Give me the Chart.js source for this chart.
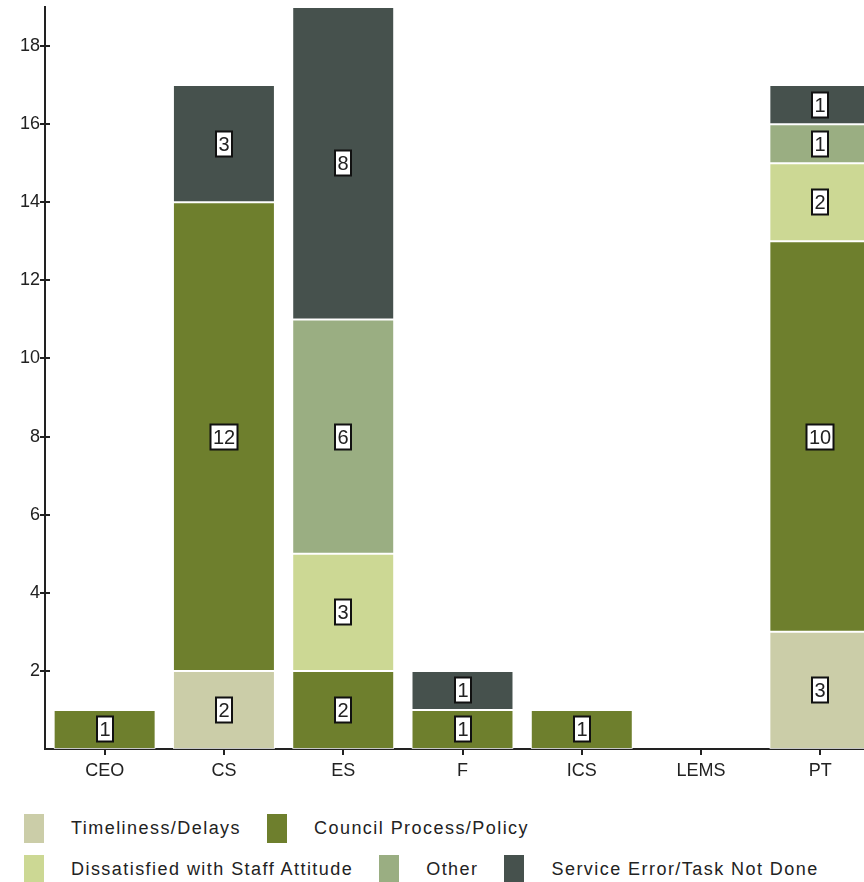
<!DOCTYPE html>
<html>
<head>
<meta charset="utf-8">
<script src="https://cdn.jsdelivr.net/npm/chart.js@4/dist/chart.umd.min.js"></script>
<style>
    html, body { margin: 0; padding: 0; background: #fff; overflow: hidden; }
    #wrap { position: relative; width: 880px; height: 790px; }
    #legend { position: absolute; left: 24px; top: 814px; font: 18px "Liberation Sans", Arial, sans-serif; letter-spacing: 1.45px; color: #222; }
    .legend-row { display: flex; align-items: center; height: 29px; margin-bottom: 12px; white-space: nowrap; }
    .legend-item { display: flex; align-items: center; margin-right: 26px; }
    .legend-box { width: 20px; height: 29px; margin-right: 27px; }
</style>
</head>
<body>
<div id="wrap"><canvas id="chart"></canvas></div>
<div id="legend"></div>
<script>
const categories = ['CEO', 'CS', 'ES', 'F', 'ICS', 'LEMS', 'PT'];

const timeliness   = [null, 2, null, null, null, null, 3];
const council      = [1, 12, 2, 1, 1, null, 10];
const dissatisfied = [null, null, 3, null, null, null, 2];
const other        = [null, null, 6, null, null, null, 1];
const serviceError = [null, 3, 8, 1, null, null, 1];

const seriesNames = [
    'Timeliness/Delays',
    'Council Process/Policy',
    'Dissatisfied with Staff Attitude',
    'Other',
    'Service Error/Task Not Done'
];
const seriesColors = ['#cbcda8', '#6e7f2d', '#ccd894', '#9aae82', '#46514d'];
const yTicks = [2, 4, 6, 8, 10, 12, 14, 16, 18];
const yMax = 19;

const FONT = '"Liberation Sans", Arial, sans-serif';

const datasets = [timeliness, council, dissatisfied, other, serviceError].map((data, i) => ({
    label: seriesNames[i],
    data,
    backgroundColor: seriesColors[i],
    borderColor: 'rgba(255,255,255,0.75)',
    borderWidth: 1,
    borderSkipped: false,
    categoryPercentage: 1,
    barPercentage: 0.855
}));

// white boxed value in the middle of each segment
const valueBoxes = {
    id: 'valueBoxes',
    afterDatasetsDraw(chart) {
        const { ctx } = chart;
        ctx.save();
        ctx.font = '20px ' + FONT;
        ctx.textAlign = 'center';
        ctx.textBaseline = 'middle';
        chart.data.datasets.forEach((ds, i) => {
            chart.getDatasetMeta(i).data.forEach((bar, j) => {
                const v = ds.data[j];
                if (!v) return;
                const cy = Math.round((bar.y + bar.base) / 2);
                const x = Math.round(bar.x);
                const text = String(v);
                const w = Math.round(ctx.measureText(text).width) + 5;
                const h = 25;
                ctx.fillStyle = '#fff';
                ctx.fillRect(x - w / 2, cy - h / 2, w, h);
                ctx.strokeStyle = '#111';
                ctx.lineWidth = 2;
                ctx.strokeRect(x - w / 2, cy - h / 2, w, h);
                ctx.fillStyle = '#222';
                ctx.fillText(text, x, cy + 1);
            });
        });
        ctx.restore();
    }
};

// y tick marks also poke into the plot area a little
const innerTicks = {
    id: 'innerTicks',
    afterDraw(chart) {
        const { ctx, chartArea } = chart;
        const y = chart.scales.y;
        ctx.save();
        ctx.strokeStyle = '#222';
        ctx.lineWidth = 2;
        y.ticks.forEach(t => {
            const py = Math.round(y.getPixelForValue(t.value));
            ctx.beginPath();
            ctx.moveTo(chartArea.left, py);
            ctx.lineTo(chartArea.left + 5, py);
            ctx.stroke();
        });
        ctx.restore();
    }
};

new Chart(document.getElementById('chart'), {
    type: 'bar',
    data: { labels: categories, datasets },
    plugins: [valueBoxes, innerTicks],
    options: {
        responsive: true,
        maintainAspectRatio: false,
        animation: false,
        layout: { padding: { top: 7, left: 0, right: 0, bottom: 0 } },
        plugins: {
            legend: { display: false },
            tooltip: { enabled: false }
        },
        scales: {
            x: {
                stacked: true,
                offset: true,
                grid: { display: true, drawOnChartArea: false, offset: false, tickLength: 6, color: '#222', lineWidth: 2 },
                border: { display: true, color: '#222', width: 2 },
                ticks: { font: { family: FONT, size: 18 }, color: '#222', padding: 5, maxRotation: 0 },
                afterFit: s => { s.height = 41; s.paddingLeft = 0; s.paddingRight = 0; }
            },
            y: {
                stacked: true,
                min: 0,
                max: yMax,
                grid: { display: true, drawOnChartArea: false, tickLength: 5, color: '#222', lineWidth: 2 },
                border: { display: true, color: '#222', width: 2 },
                ticks: { font: { family: FONT, size: 18 }, color: '#222', padding: 0, stepSize: 2 },
                afterBuildTicks: s => { s.ticks = yTicks.map(v => ({ value: v })); },
                afterFit: s => { s.width = 45; s.paddingTop = 0; s.paddingBottom = 0; }
            }
        }
    }
});

// legend rows built from the same series names/colours
const legendRows = [[0, 1], [2, 3, 4]];
const legend = document.getElementById('legend');
legendRows.forEach(row => {
    const r = document.createElement('div');
    r.className = 'legend-row';
    row.forEach(i => {
        const item = document.createElement('div');
        item.className = 'legend-item';
        const box = document.createElement('span');
        box.className = 'legend-box';
        box.style.background = seriesColors[i];
        const label = document.createElement('span');
        label.textContent = seriesNames[i];
        item.appendChild(box);
        item.appendChild(label);
        r.appendChild(item);
    });
    legend.appendChild(r);
});
</script>
</body>
</html>
